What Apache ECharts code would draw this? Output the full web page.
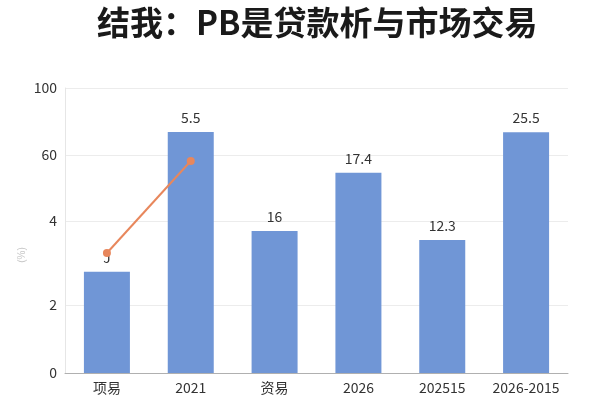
<!DOCTYPE html>
<html>
<head>
<meta charset="utf-8">
<script src="https://cdn.jsdelivr.net/npm/echarts@6/dist/echarts.min.js"></script>
<style>html,body{margin:0;padding:0;background:#fff}#c{width:600px;height:400px}</style>
</head>
<body>
<div id="c"></div>
<script>
const titleText = '结我：PB是贷款析与市场交易';
const categories = ['项易', '2021', '资易', '2026', '202515', '2026-2015'];
const barValues = [35.5, 84.6, 49.8, 70.3, 46.7, 84.5];
const barLabels = ['J', '5.5', '16', '17.4', '12.3', '25.5'];
const lineValues = [42.1, 74.4, '-', '-', '-', '-'];
const yTickValues = [0, 23.9, 53.3, 76.5, 100];
const yTickLabels = ['0', '2', '4', '60', '100'];
const yAxisName = '(%)';

const chart = echarts.init(document.getElementById('c'));
chart.setOption({
  animation: false,
  backgroundColor: '#fff',
  title: {
    text: titleText,
    left: 92,
    top: 1,
    textStyle: { fontFamily: 'Noto Sans CJK SC', fontWeight: 'bold', fontSize: 33, color: '#1a1a1a' }
  },
  grid: { left: 65, right: 32, top: 88, bottom: 27, containLabel: false },
  xAxis: {
    type: 'category',
    data: categories,
    axisLine: { lineStyle: { color: '#b0b0b0', width: 1 } },
    axisTick: { show: false },
    axisLabel: { interval: 0, color: '#333', fontSize: 14, margin: 8, fontFamily: 'Noto Sans CJK SC' }
  },
  yAxis: {
    type: 'value',
    min: 0,
    max: 100,
    axisLine: { show: true, lineStyle: { color: '#e6e6e6' } },
    axisTick: { show: false, customValues: yTickValues },
    axisLabel: {
      customValues: yTickValues,
      color: '#333', fontSize: 14, margin: 8, fontFamily: 'Noto Sans CJK SC',
      formatter: function (v) {
        const i = yTickValues.indexOf(v);
        return i >= 0 ? yTickLabels[i] : '';
      }
    },
    splitLine: { show: true, lineStyle: { color: '#ececec', width: 1 } }
  },
  graphic: [{
    type: 'text',
    x: 22, y: 255,
    rotation: Math.PI / 2,
    style: { text: yAxisName, fill: '#c8c8c8', fontSize: 10, align: 'center', verticalAlign: 'middle' }
  }],
  series: [{
    type: 'bar',
    data: barValues,
    barWidth: 46,
    itemStyle: { color: '#7096d6' },
    label: {
      show: true, position: 'top', distance: 7,
      color: '#333', fontSize: 14, fontFamily: 'Noto Sans CJK SC',
      formatter: function (p) { return barLabels[p.dataIndex]; }
    },
    z: 2
  }, {
    type: 'line',
    data: lineValues,
    symbol: 'circle',
    symbolSize: 8,
    lineStyle: { color: '#e8875c', width: 2 },
    itemStyle: { color: '#e8875c' },
    z: 3
  }]
});
</script>
</body>
</html>
